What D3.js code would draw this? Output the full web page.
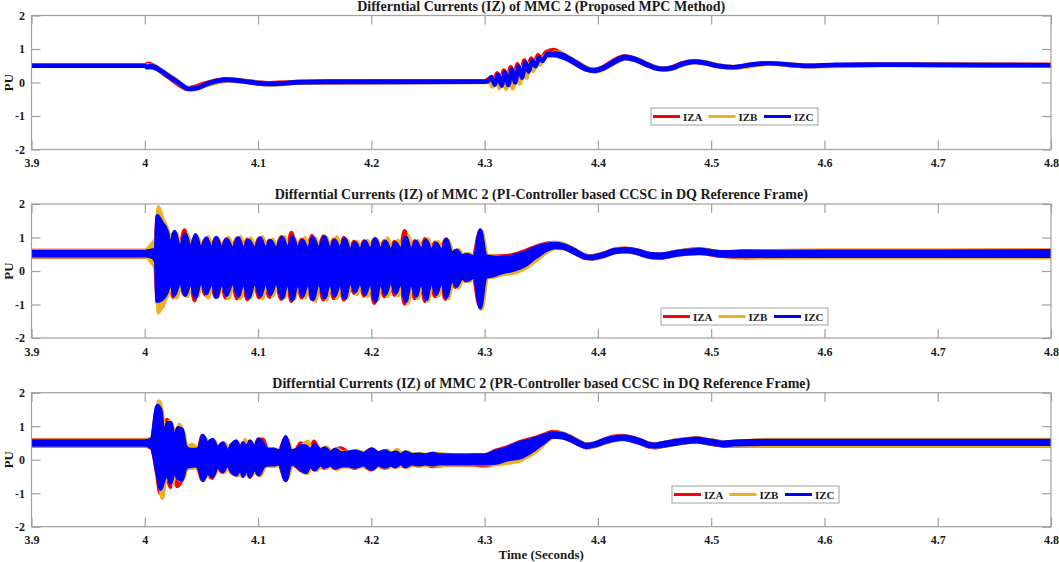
<!DOCTYPE html>
<html>
<head>
<meta charset="utf-8">
<script src="https://cdn.jsdelivr.net/npm/d3@7/dist/d3.min.js"></script>
<style>
	body { margin: 0; background: #fff; }
	svg { display: block; }
	text { font-family: 'Liberation Serif', 'Times New Roman', serif; font-weight: bold; fill: #1a1a1a; }
	.frame { fill: none; stroke: #a0a0a0; stroke-width: 1.2; }
	.tick line { stroke: #a0a0a0; stroke-width: 1.2; }
	.tick text { font-size: 12px; }
	.title { font-size: 14px; }
	.legend rect { fill: #fff; stroke: #a0a0a0; stroke-width: 1; }
	.legend text { font-size: 11px; }
</style>
</head>
<body>
<div id="chart"></div>
<script>
'use strict';

// ---- data ----
// every row: [time (s), upper edge (PU), lower edge (PU)]
// where the trace is a plain line, upper and lower are (nearly) equal

const seriesNames = ['IZA', 'IZB', 'IZC'];
const seriesColors = ['#ff0000', '#edb120', '#0000ff'];

const xTicks = [3.9, 4.0, 4.1, 4.2, 4.3, 4.4, 4.5, 4.6, 4.7, 4.8];
const yTicks = [-2, -1, 0, 1, 2];

const panelTitles = [
	'Differntial Currents (IZ) of MMC 2 (Proposed MPC Method)',
	'Differntial Currents (IZ) of MMC 2 (PI-Controller based CCSC in DQ Reference Frame)',
	'Differntial Currents (IZ) of MMC 2 (PR-Controller based CCSC in DQ Reference Frame)',
];

// panel 1: proposed MPC
const p1IZA = [
	[3.900, 0.51, 0.50], [4.000, 0.51, 0.50], [4.003, 0.56, 0.52], [4.008, 0.50, 0.46],
	[4.020, 0.22, 0.18], [4.038, -0.17, -0.19], [4.054, -0.02, -0.04], [4.072, 0.10, 0.08],
	[4.090, 0.04, 0.02], [4.108, -0.02, -0.04], [4.135, 0.02, 0.00], [4.300, 0.04, 0.02],
	[4.305, 0.12, 0.10], [4.308, -0.02, -0.04], [4.311, 0.28, 0.26], [4.314, -0.04, -0.06],
	[4.317, 0.36, 0.34], [4.320, -0.02, -0.04], [4.323, 0.46, 0.44], [4.326, 0.06, 0.04],
	[4.329, 0.55, 0.53], [4.332, 0.22, 0.20], [4.335, 0.66, 0.64], [4.338, 0.40, 0.38],
	[4.341, 0.72, 0.70], [4.344, 0.56, 0.54], [4.347, 0.82, 0.80], [4.350, 0.72, 0.70],
	[4.354, 0.90, 0.88], [4.361, 0.97, 0.90], [4.367, 0.88, 0.80], [4.374, 0.74, 0.68],
	[4.381, 0.60, 0.54], [4.389, 0.44, 0.40], [4.396, 0.38, 0.35], [4.404, 0.45, 0.42],
	[4.413, 0.64, 0.60], [4.423, 0.78, 0.73], [4.432, 0.72, 0.68], [4.441, 0.58, 0.55],
	[4.449, 0.46, 0.44], [4.457, 0.41, 0.39], [4.465, 0.45, 0.43], [4.474, 0.57, 0.55],
	[4.484, 0.64, 0.62], [4.494, 0.60, 0.58], [4.504, 0.52, 0.50], [4.519, 0.46, 0.45],
	[4.550, 0.58, 0.57], [4.584, 0.50, 0.49], [4.650, 0.54, 0.53], [4.800, 0.53, 0.52],
];
const p1IZB = [
	[3.900, 0.50, 0.50], [4.000, 0.50, 0.50], [4.004, 0.52, 0.48], [4.012, 0.42, 0.38],
	[4.024, 0.16, 0.12], [4.041, -0.18, -0.21], [4.057, -0.03, -0.06], [4.075, 0.09, 0.06],
	[4.093, 0.03, 0.00], [4.112, -0.03, -0.06], [4.140, 0.02, 0.00], [4.300, 0.03, 0.01],
	[4.304, 0.04, 0.02], [4.307, -0.10, -0.12], [4.310, 0.12, 0.10], [4.313, -0.15, -0.17],
	[4.316, 0.20, 0.18], [4.319, -0.16, -0.18], [4.322, 0.28, 0.26], [4.325, -0.15, -0.17],
	[4.328, 0.36, 0.34], [4.331, -0.02, -0.04], [4.334, 0.48, 0.46], [4.337, 0.16, 0.14],
	[4.340, 0.58, 0.56], [4.343, 0.36, 0.34], [4.346, 0.66, 0.64], [4.349, 0.55, 0.53],
	[4.352, 0.76, 0.74], [4.358, 0.86, 0.82], [4.364, 0.90, 0.80], [4.370, 0.84, 0.74],
	[4.377, 0.70, 0.64], [4.384, 0.56, 0.50], [4.392, 0.42, 0.36], [4.399, 0.37, 0.33],
	[4.407, 0.47, 0.43], [4.416, 0.66, 0.60], [4.426, 0.76, 0.71], [4.435, 0.70, 0.66],
	[4.444, 0.56, 0.52], [4.452, 0.45, 0.42], [4.460, 0.41, 0.38], [4.468, 0.46, 0.43],
	[4.477, 0.58, 0.55], [4.487, 0.64, 0.61], [4.497, 0.59, 0.56], [4.507, 0.51, 0.48],
	[4.522, 0.46, 0.44], [4.553, 0.58, 0.56], [4.587, 0.50, 0.48], [4.650, 0.54, 0.52],
	[4.800, 0.52, 0.50],
];
const p1IZC = [
	[3.900, 0.50, 0.50], [4.000, 0.50, 0.50], [4.002, 0.47, 0.45], [4.005, 0.50, 0.46],
	[4.010, 0.45, 0.42], [4.015, 0.34, 0.32], [4.022, 0.18, 0.16], [4.030, 0.00, -0.02],
	[4.039, -0.18, -0.20], [4.047, -0.15, -0.17], [4.055, -0.03, -0.05], [4.064, 0.06, 0.04],
	[4.073, 0.09, 0.07], [4.082, 0.07, 0.05], [4.091, 0.03, 0.01], [4.100, -0.01, -0.03],
	[4.110, -0.03, -0.05], [4.120, -0.02, -0.04], [4.135, 0.02, 0.00], [4.170, 0.03, 0.01],
	[4.220, 0.03, 0.01], [4.300, 0.03, 0.02], [4.303, 0.05, 0.04], [4.306, 0.17, 0.15],
	[4.309, -0.05, -0.07], [4.312, 0.24, 0.22], [4.315, -0.08, -0.10], [4.318, 0.30, 0.28],
	[4.321, -0.06, -0.08], [4.324, 0.40, 0.38], [4.327, 0.02, 0.00], [4.330, 0.48, 0.46],
	[4.333, 0.16, 0.14], [4.336, 0.60, 0.58], [4.339, 0.34, 0.32], [4.342, 0.66, 0.64],
	[4.345, 0.50, 0.48], [4.348, 0.74, 0.72], [4.351, 0.66, 0.64], [4.355, 0.84, 0.82],
	[4.362, 0.87, 0.82], [4.368, 0.84, 0.76], [4.375, 0.72, 0.66], [4.382, 0.58, 0.52],
	[4.390, 0.42, 0.38], [4.397, 0.37, 0.34], [4.405, 0.45, 0.42], [4.414, 0.63, 0.59],
	[4.424, 0.77, 0.73], [4.433, 0.71, 0.67], [4.442, 0.57, 0.54], [4.450, 0.45, 0.43],
	[4.458, 0.41, 0.39], [4.466, 0.45, 0.43], [4.475, 0.57, 0.55], [4.485, 0.63, 0.61],
	[4.495, 0.59, 0.57], [4.505, 0.51, 0.49], [4.520, 0.46, 0.45], [4.535, 0.54, 0.53],
	[4.551, 0.58, 0.57], [4.568, 0.54, 0.53], [4.585, 0.50, 0.49], [4.610, 0.53, 0.52],
	[4.650, 0.54, 0.53], [4.700, 0.53, 0.52], [4.800, 0.52, 0.51],
];

// panel 2: PI controller (dq frame)
const p2IZA = [
	[3.900, 0.61, 0.42], [4.000, 0.61, 0.42], [4.0060, 0.64, 0.38], [4.0090, 0.72, 0.20],
	[4.0110, 1.60, -0.95], [4.0145, 1.45, -1.10], [4.0190, 1.12, -0.65], [4.0218, 0.62, -0.28],
	[4.0250, 1.10, -0.78], [4.0300, 0.62, -0.30], [4.0350, 1.22, -0.72], [4.0395, 0.62, -0.28],
	[4.0440, 1.00, -0.88], [4.0485, 0.62, -0.30], [4.0535, 0.95, -0.72], [4.0580, 0.62, -0.28],
	[4.0625, 0.98, -0.78], [4.0670, 0.62, -0.30], [4.0715, 0.95, -0.80], [4.0765, 0.62, -0.28],
	[4.0815, 0.98, -0.82], [4.0860, 0.62, -0.30], [4.0905, 0.95, -0.85], [4.0960, 0.62, -0.28],
	[4.1010, 0.98, -0.80], [4.1055, 0.62, -0.30], [4.1100, 0.92, -0.78], [4.1150, 0.62, -0.28],
	[4.1205, 1.02, -0.84], [4.1250, 0.62, -0.30], [4.1295, 1.15, -0.90], [4.1340, 0.62, -0.28],
	[4.1385, 0.95, -0.80], [4.1430, 0.62, -0.30], [4.1475, 1.06, -0.84], [4.1525, 0.62, -0.28],
	[4.1578, 1.04, -0.86], [4.1623, 0.62, -0.30], [4.1668, 0.95, -0.82], [4.1712, 0.62, -0.28],
	[4.1757, 1.00, -0.86], [4.1802, 0.60, -0.30], [4.1847, 0.88, -0.66], [4.1890, 0.60, -0.28],
	[4.1936, 0.90, -0.74], [4.1980, 0.60, -0.30], [4.2026, 0.95, -0.96], [4.2070, 0.60, -0.28],
	[4.2115, 0.90, -0.76], [4.2160, 0.60, -0.30], [4.2205, 0.88, -0.72], [4.2250, 0.60, -0.28],
	[4.2294, 1.20, -0.98], [4.2340, 0.60, -0.30], [4.2384, 0.90, -0.82], [4.2430, 0.60, -0.28],
	[4.2474, 0.96, -0.90], [4.2520, 0.60, -0.28], [4.2563, 0.86, -0.76], [4.2610, 0.58, -0.28],
	[4.2653, 0.94, -0.84], [4.2700, 0.52, -0.25], [4.2742, 0.60, -0.48], [4.2790, 0.45, -0.20],
	[4.2832, 0.50, -0.30], [4.2900, 0.42, -0.18], [4.2951, 1.10, -1.00], [4.3000, 0.45, -0.20],
	[4.3050, 0.45, -0.18], [4.3140, 0.45, -0.08], [4.3240, 0.48, 0.00], [4.3340, 0.58, 0.15],
	[4.3440, 0.72, 0.42], [4.3540, 0.82, 0.62], [4.3610, 0.85, 0.70], [4.3690, 0.80, 0.68],
	[4.3790, 0.64, 0.54], [4.3890, 0.47, 0.38], [4.3940, 0.45, 0.37], [4.4040, 0.52, 0.44],
	[4.4140, 0.64, 0.55], [4.4240, 0.68, 0.58], [4.4340, 0.63, 0.53], [4.4440, 0.53, 0.42],
	[4.4540, 0.50, 0.38], [4.4690, 0.58, 0.48], [4.4890, 0.66, 0.53], [4.5090, 0.56, 0.44],
	[4.5300, 0.60, 0.40], [4.6000, 0.61, 0.41], [4.7000, 0.61, 0.41], [4.8000, 0.62, 0.42],
];
const p2IZB = [
	[3.900, 0.60, 0.43], [4.000, 0.60, 0.43], [4.0060, 0.80, 0.25], [4.0100, 1.00, 0.00],
	[4.0120, 1.92, -1.24], [4.0160, 1.55, -1.00], [4.0215, 1.10, -0.62], [4.0242, 0.62, -0.28],
	[4.0280, 1.12, -0.80], [4.0325, 0.62, -0.30], [4.0375, 1.10, -0.76], [4.0420, 0.62, -0.28],
	[4.0465, 1.02, -0.76], [4.0510, 0.62, -0.30], [4.0560, 1.02, -0.80], [4.0605, 0.62, -0.28],
	[4.0650, 0.95, -0.74], [4.0695, 0.62, -0.30], [4.0740, 1.00, -0.82], [4.0790, 0.62, -0.28],
	[4.0845, 1.02, -0.82], [4.0885, 0.62, -0.30], [4.0935, 0.98, -0.80], [4.0985, 0.62, -0.28],
	[4.1040, 1.02, -0.82], [4.1080, 0.62, -0.30], [4.1130, 0.95, -0.74], [4.1175, 0.62, -0.28],
	[4.1235, 1.02, -0.80], [4.1275, 0.62, -0.30], [4.1320, 0.98, -0.82], [4.1365, 0.62, -0.28],
	[4.1415, 1.00, -0.80], [4.1455, 0.62, -0.30], [4.1505, 0.98, -0.90], [4.1550, 0.62, -0.28],
	[4.1605, 1.00, -0.86], [4.1650, 0.62, -0.30], [4.1695, 1.02, -0.82], [4.1740, 0.62, -0.28],
	[4.1785, 0.94, -0.80], [4.1830, 0.60, -0.30], [4.1875, 0.88, -0.70], [4.1915, 0.60, -0.28],
	[4.1965, 0.92, -0.76], [4.2005, 0.60, -0.30], [4.2055, 0.92, -0.86], [4.2095, 0.60, -0.28],
	[4.2145, 0.98, -0.76], [4.2185, 0.60, -0.30], [4.2235, 0.92, -0.74], [4.2275, 0.60, -0.28],
	[4.2325, 1.06, -0.96], [4.2365, 0.60, -0.30], [4.2410, 0.92, -0.82], [4.2455, 0.60, -0.28],
	[4.2500, 0.96, -0.90], [4.2545, 0.60, -0.28], [4.2590, 0.88, -0.74], [4.2635, 0.58, -0.28],
	[4.2680, 0.92, -0.82], [4.2725, 0.52, -0.25], [4.2770, 0.64, -0.50], [4.2815, 0.45, -0.20],
	[4.2860, 0.52, -0.32], [4.2920, 0.42, -0.18], [4.2975, 1.18, -1.14], [4.3025, 0.45, -0.20],
	[4.3080, 0.45, -0.18], [4.3170, 0.38, -0.10], [4.3270, 0.42, -0.05], [4.3370, 0.52, 0.10],
	[4.3470, 0.68, 0.35], [4.3570, 0.82, 0.60], [4.3640, 0.85, 0.68], [4.3720, 0.78, 0.65],
	[4.3820, 0.60, 0.50], [4.3920, 0.45, 0.36], [4.3970, 0.44, 0.36], [4.4070, 0.54, 0.44],
	[4.4170, 0.66, 0.56], [4.4270, 0.67, 0.57], [4.4370, 0.60, 0.50], [4.4470, 0.50, 0.40],
	[4.4570, 0.50, 0.40], [4.4720, 0.60, 0.48], [4.4920, 0.65, 0.52], [4.5120, 0.56, 0.45],
	[4.5300, 0.58, 0.42], [4.6000, 0.62, 0.40], [4.7000, 0.62, 0.40], [4.8000, 0.62, 0.40],
];
const p2IZC = [
	[3.900, 0.58, 0.46], [3.960, 0.58, 0.46], [4.000, 0.58, 0.46], [4.0060, 0.62, 0.42],
	[4.0095, 0.64, 0.30], [4.0110, 1.65, -0.90], [4.0150, 1.45, -0.85], [4.0200, 1.15, -0.60],
	[4.0228, 0.70, -0.30], [4.0262, 1.18, -0.72], [4.0310, 0.68, -0.30], [4.0358, 1.10, -0.72],
	[4.0405, 0.66, -0.32], [4.0448, 1.08, -0.78], [4.0495, 0.65, -0.28], [4.0543, 0.98, -0.68],
	[4.0590, 0.66, -0.32], [4.0633, 1.00, -0.78], [4.0680, 0.64, -0.30], [4.0722, 0.95, -0.72],
	[4.0775, 0.66, -0.32], [4.0827, 0.98, -0.75], [4.0870, 0.64, -0.30], [4.0916, 0.92, -0.80],
	[4.0970, 0.66, -0.32], [4.1021, 0.98, -0.75], [4.1065, 0.64, -0.30], [4.1110, 0.90, -0.70],
	[4.1160, 0.66, -0.32], [4.1215, 1.00, -0.80], [4.1260, 0.64, -0.30], [4.1304, 1.02, -0.85],
	[4.1350, 0.66, -0.32], [4.1394, 0.92, -0.75], [4.1440, 0.62, -0.30], [4.1484, 1.00, -0.85],
	[4.1535, 0.66, -0.32], [4.1588, 1.02, -0.80], [4.1633, 0.64, -0.30], [4.1678, 0.92, -0.75],
	[4.1722, 0.66, -0.32], [4.1767, 0.96, -0.82], [4.1812, 0.60, -0.28], [4.1857, 0.85, -0.62],
	[4.1900, 0.62, -0.30], [4.1946, 0.88, -0.70], [4.1990, 0.60, -0.28], [4.2036, 0.96, -0.90],
	[4.2080, 0.62, -0.30], [4.2125, 0.88, -0.70], [4.2170, 0.60, -0.28], [4.2215, 0.84, -0.66],
	[4.2260, 0.62, -0.30], [4.2304, 1.02, -0.90], [4.2350, 0.60, -0.30], [4.2394, 0.88, -0.75],
	[4.2440, 0.62, -0.28], [4.2484, 0.92, -0.85], [4.2530, 0.60, -0.28], [4.2573, 0.82, -0.70],
	[4.2620, 0.58, -0.28], [4.2663, 0.95, -0.78], [4.2710, 0.52, -0.25], [4.2752, 0.62, -0.45],
	[4.2800, 0.45, -0.20], [4.2842, 0.48, -0.28], [4.2910, 0.42, -0.18], [4.2961, 1.22, -1.10],
	[4.3010, 0.45, -0.18], [4.3060, 0.42, -0.15], [4.3150, 0.40, -0.05], [4.3250, 0.45, 0.02],
	[4.3350, 0.55, 0.15], [4.3450, 0.70, 0.40], [4.3550, 0.80, 0.62], [4.3620, 0.82, 0.70],
	[4.3700, 0.78, 0.68], [4.3800, 0.62, 0.52], [4.3900, 0.45, 0.38], [4.3950, 0.44, 0.37],
	[4.4050, 0.52, 0.44], [4.4150, 0.64, 0.55], [4.4250, 0.66, 0.58], [4.4350, 0.62, 0.52],
	[4.4450, 0.52, 0.42], [4.4550, 0.50, 0.40], [4.4700, 0.58, 0.48], [4.4900, 0.64, 0.53],
	[4.5100, 0.57, 0.45], [4.5300, 0.58, 0.44], [4.6000, 0.59, 0.44], [4.7000, 0.59, 0.44],
	[4.8000, 0.60, 0.44],
];

// panel 3: PR controller (dq frame)
const p3IZA = [
	[3.900, 0.59, 0.41], [4.000, 0.59, 0.41], [4.0060, 0.62, 0.33], [4.0105, 1.50, -0.40],
	[4.0135, 1.40, -1.00], [4.0165, 0.70, -0.55], [4.0195, 1.20, -0.50], [4.0225, 1.05, -0.82],
	[4.0255, 0.55, -0.30], [4.0285, 0.90, -0.80], [4.0325, 0.85, -0.62], [4.0355, 0.38, -0.25],
	[4.0395, 0.32, -0.22], [4.0445, 0.30, -0.20], [4.0475, 0.35, -0.30], [4.0505, 0.72, -0.60],
	[4.0545, 0.50, -0.42], [4.0595, 0.58, -0.55], [4.0635, 0.35, -0.22], [4.0685, 0.48, -0.38],
	[4.0725, 0.28, -0.18], [4.0765, 0.45, -0.38], [4.0805, 0.55, -0.45], [4.0835, 0.30, -0.25],
	[4.0865, 0.50, -0.50], [4.0895, 0.35, -0.25], [4.0925, 0.55, -0.52], [4.0965, 0.35, -0.25],
	[4.1000, 0.62, -0.45], [4.1045, 0.60, -0.22], [4.1085, 0.30, -0.18], [4.1135, 0.32, -0.18],
	[4.1185, 0.25, -0.15], [4.1240, 0.65, -0.60], [4.1285, 0.25, -0.15], [4.1335, 0.30, -0.20],
	[4.1375, 0.50, -0.32], [4.1420, 0.42, -0.38], [4.1455, 0.30, -0.20], [4.1495, 0.55, -0.30],
	[4.1545, 0.28, -0.18], [4.1585, 0.35, -0.25], [4.1635, 0.22, -0.18], [4.1675, 0.30, -0.25],
	[4.1735, 0.35, -0.20], [4.1795, 0.22, -0.20], [4.1855, 0.25, -0.25], [4.1925, 0.18, -0.18],
	[4.2000, 0.32, -0.30], [4.2055, 0.20, -0.18], [4.2120, 0.26, -0.25], [4.2165, 0.18, -0.18],
	[4.2210, 0.22, -0.22], [4.2255, 0.15, -0.15], [4.2300, 0.22, -0.22], [4.2355, 0.15, -0.15],
	[4.2420, 0.16, -0.18], [4.2475, 0.14, -0.15], [4.2540, 0.18, -0.20], [4.2700, 0.15, -0.15],
	[4.2900, 0.15, -0.16], [4.3000, 0.14, -0.18], [4.3100, 0.28, -0.12], [4.3200, 0.38, -0.05],
	[4.3300, 0.52, 0.05], [4.3440, 0.66, 0.30], [4.3520, 0.75, 0.50], [4.3600, 0.84, 0.68],
	[4.3680, 0.80, 0.66], [4.3756, 0.70, 0.58], [4.3830, 0.56, 0.45], [4.3895, 0.46, 0.36],
	[4.3980, 0.51, 0.41], [4.4070, 0.63, 0.52], [4.4140, 0.70, 0.58], [4.4210, 0.72, 0.62],
	[4.4300, 0.67, 0.56], [4.4380, 0.58, 0.48], [4.4450, 0.48, 0.38], [4.4505, 0.46, 0.36],
	[4.4600, 0.52, 0.42], [4.4700, 0.58, 0.48], [4.4800, 0.63, 0.52], [4.4870, 0.65, 0.54],
	[4.4950, 0.60, 0.50], [4.5045, 0.56, 0.44], [4.5110, 0.52, 0.41], [4.5500, 0.59, 0.42],
	[4.6500, 0.59, 0.42], [4.8000, 0.59, 0.42],
];
const p3IZB = [
	[3.900, 0.58, 0.42], [4.000, 0.58, 0.42], [4.0070, 0.66, 0.30], [4.0125, 1.75, -0.50],
	[4.0155, 1.40, -1.15], [4.0185, 0.75, -0.60], [4.0215, 1.15, -0.50], [4.0245, 1.00, -0.72],
	[4.0275, 0.60, -0.30], [4.0305, 1.05, -0.60], [4.0345, 0.80, -0.55], [4.0375, 0.40, -0.25],
	[4.0420, 0.45, -0.25], [4.0465, 0.35, -0.22], [4.0495, 0.40, -0.30], [4.0528, 0.65, -0.55],
	[4.0565, 0.55, -0.45], [4.0615, 0.55, -0.45], [4.0655, 0.35, -0.22], [4.0705, 0.50, -0.38],
	[4.0745, 0.30, -0.18], [4.0785, 0.50, -0.40], [4.0825, 0.50, -0.48], [4.0855, 0.32, -0.25],
	[4.0885, 0.60, -0.45], [4.0915, 0.35, -0.25], [4.0945, 0.50, -0.48], [4.0985, 0.35, -0.25],
	[4.1020, 0.55, -0.48], [4.1065, 0.40, -0.22], [4.1105, 0.32, -0.18], [4.1155, 0.30, -0.18],
	[4.1205, 0.28, -0.15], [4.1260, 0.60, -0.55], [4.1305, 0.25, -0.15], [4.1355, 0.35, -0.20],
	[4.1395, 0.45, -0.35], [4.1440, 0.55, -0.40], [4.1475, 0.30, -0.20], [4.1515, 0.42, -0.32],
	[4.1565, 0.30, -0.18], [4.1605, 0.38, -0.25], [4.1655, 0.25, -0.18], [4.1695, 0.32, -0.30],
	[4.1755, 0.22, -0.20], [4.1815, 0.24, -0.20], [4.1875, 0.26, -0.24], [4.1945, 0.20, -0.18],
	[4.2020, 0.30, -0.28], [4.2075, 0.20, -0.18], [4.2140, 0.28, -0.25], [4.2185, 0.20, -0.18],
	[4.2230, 0.30, -0.22], [4.2275, 0.16, -0.15], [4.2320, 0.22, -0.22], [4.2375, 0.16, -0.15],
	[4.2440, 0.18, -0.18], [4.2495, 0.15, -0.15], [4.2560, 0.18, -0.18], [4.2700, 0.15, -0.15],
	[4.2900, 0.15, -0.15], [4.3000, 0.15, -0.14], [4.3100, 0.22, -0.15], [4.3200, 0.30, -0.10],
	[4.3300, 0.45, -0.05], [4.3360, 0.55, 0.05], [4.3460, 0.62, 0.25], [4.3540, 0.75, 0.50],
	[4.3620, 0.82, 0.68], [4.3700, 0.78, 0.66], [4.3776, 0.66, 0.56], [4.3850, 0.54, 0.44],
	[4.3915, 0.45, 0.36], [4.4000, 0.52, 0.42], [4.4090, 0.64, 0.52], [4.4160, 0.70, 0.58],
	[4.4230, 0.70, 0.60], [4.4320, 0.64, 0.54], [4.4400, 0.56, 0.46], [4.4470, 0.48, 0.38],
	[4.4525, 0.46, 0.37], [4.4620, 0.54, 0.42], [4.4720, 0.60, 0.48], [4.4820, 0.63, 0.52],
	[4.4890, 0.64, 0.53], [4.4970, 0.60, 0.48], [4.5065, 0.55, 0.44], [4.5130, 0.53, 0.42],
	[4.5500, 0.60, 0.43], [4.6500, 0.60, 0.43], [4.8000, 0.60, 0.43],
];
const p3IZC = [
	[3.900, 0.56, 0.44], [3.950, 0.56, 0.44], [4.000, 0.56, 0.44], [4.0060, 0.62, 0.35],
	[4.0110, 1.62, -0.40], [4.0140, 1.50, -0.88], [4.0170, 0.70, -0.60], [4.0200, 1.10, -0.45],
	[4.0230, 1.10, -0.70], [4.0260, 0.60, -0.30], [4.0290, 0.95, -0.55], [4.0330, 0.90, -0.60],
	[4.0360, 0.40, -0.25], [4.0400, 0.30, -0.20], [4.0450, 0.30, -0.18], [4.0480, 0.35, -0.25],
	[4.0513, 0.72, -0.62], [4.0550, 0.50, -0.40], [4.0600, 0.60, -0.50], [4.0640, 0.35, -0.20],
	[4.0690, 0.50, -0.35], [4.0730, 0.25, -0.15], [4.0770, 0.45, -0.35], [4.0810, 0.55, -0.45],
	[4.0840, 0.30, -0.25], [4.0870, 0.50, -0.48], [4.0900, 0.35, -0.25], [4.0930, 0.55, -0.50],
	[4.0970, 0.35, -0.25], [4.1006, 0.60, -0.45], [4.1050, 0.45, -0.20], [4.1090, 0.30, -0.15],
	[4.1140, 0.30, -0.15], [4.1190, 0.25, -0.12], [4.1245, 0.68, -0.62], [4.1290, 0.25, -0.12],
	[4.1340, 0.30, -0.18], [4.1380, 0.42, -0.30], [4.1424, 0.40, -0.38], [4.1460, 0.28, -0.18],
	[4.1500, 0.45, -0.30], [4.1550, 0.28, -0.15], [4.1590, 0.35, -0.22], [4.1640, 0.22, -0.15],
	[4.1680, 0.30, -0.25], [4.1740, 0.20, -0.18], [4.1800, 0.22, -0.18], [4.1860, 0.25, -0.22],
	[4.1930, 0.18, -0.15], [4.2006, 0.32, -0.28], [4.2060, 0.20, -0.15], [4.2125, 0.26, -0.22],
	[4.2170, 0.18, -0.15], [4.2215, 0.22, -0.20], [4.2260, 0.15, -0.12], [4.2304, 0.22, -0.20],
	[4.2360, 0.15, -0.12], [4.2424, 0.16, -0.15], [4.2480, 0.14, -0.12], [4.2543, 0.18, -0.15],
	[4.2600, 0.14, -0.12], [4.2700, 0.14, -0.12], [4.2800, 0.13, -0.12], [4.2900, 0.14, -0.12],
	[4.3000, 0.14, -0.12], [4.3100, 0.25, -0.10], [4.3200, 0.35, 0.00], [4.3300, 0.50, 0.05],
	[4.3440, 0.62, 0.30], [4.3520, 0.72, 0.50], [4.3600, 0.80, 0.68], [4.3680, 0.78, 0.66],
	[4.3756, 0.68, 0.58], [4.3830, 0.55, 0.45], [4.3895, 0.45, 0.37], [4.3980, 0.50, 0.42],
	[4.4070, 0.62, 0.52], [4.4140, 0.68, 0.58], [4.4210, 0.70, 0.62], [4.4300, 0.66, 0.56],
	[4.4380, 0.58, 0.48], [4.4450, 0.48, 0.40], [4.4505, 0.46, 0.38], [4.4600, 0.52, 0.42],
	[4.4700, 0.58, 0.48], [4.4800, 0.62, 0.52], [4.4870, 0.64, 0.54], [4.4950, 0.60, 0.50],
	[4.5045, 0.55, 0.45], [4.5110, 0.52, 0.42], [4.5200, 0.55, 0.45], [4.5500, 0.57, 0.46],
	[4.6000, 0.57, 0.46], [4.6500, 0.57, 0.46], [4.7000, 0.57, 0.46], [4.7500, 0.57, 0.46],
	[4.8000, 0.57, 0.46],
];

const panelSeries = [
	[p1IZA, p1IZB, p1IZC],
	[p2IZA, p2IZB, p2IZC],
	[p3IZA, p3IZB, p3IZC],
];

// ---- layout ----
const W = 1059, H = 562;
const plotL = 31.5, plotR = 1051;
const plotH = 134;
const panelTop = [15.5, 204, 392.7];
const legendAt = [[619.5, 92.5], [629.5, 104], [640.5, 93.3]]; // offset from plot top-left
const lineW = [4.3, 3.6, 3.6];
const tickLen = 9;

const fmt = function(d) { return String(+d.toFixed(1)); };

let svg = d3.select('#chart')
	.append('svg')
		.attr('width', W)
		.attr('height', H)
	;
svg.append('rect').attr('width', W).attr('height', H).attr('fill', '#fff');

let x = d3.scaleLinear().domain([3.9, 4.8]).range([plotL, plotR]);

for (let p=0 ; p<3 ; ++p) {
	let top = panelTop[p];
	let y = d3.scaleLinear().domain([-2, 2]).range([top + plotH, top]);
	let g = svg.append('g').classed('panel', true);

	g.append('defs').append('clipPath')
		.attr('id', 'clip'+p)
		.append('rect')
			.attr('x', plotL)
			.attr('y', top)
			.attr('width', plotR - plotL)
			.attr('height', plotH)
		;

	// axes: inward ticks on all four sides, labels only bottom/left
	g.append('g')
		.attr('transform', 'translate(0,'+(top + plotH)+')')
		.call(d3.axisBottom(x).tickValues(xTicks).tickSize(-tickLen).tickPadding(9).tickFormat(fmt))
		;
	g.append('g')
		.attr('transform', 'translate(0,'+top+')')
		.call(d3.axisTop(x).tickValues(xTicks).tickSize(-tickLen).tickFormat(''))
		;
	g.append('g')
		.attr('transform', 'translate('+plotL+',0)')
		.call(d3.axisLeft(y).tickValues(yTicks).tickSize(-tickLen).tickPadding(6.5).tickFormat(fmt))
		;
	g.append('g')
		.attr('transform', 'translate('+plotR+',0)')
		.call(d3.axisRight(y).tickValues(yTicks).tickSize(-tickLen).tickFormat(''))
		;
	g.selectAll('.domain').remove();
	g.selectAll('.tick text').attr('font-family', null).attr('font-size', null).attr('fill', '#1a1a1a');

	// traces, IZC drawn last (on top)
	let area = d3.area()
		.curve(d3.curveMonotoneX)
		.x(function(d) { return x(d[0]); })
		.y0(function(d) { return y(d[2]); })
		.y1(function(d) { return y(d[1]); })
		;
	let traces = g.append('g').attr('clip-path', 'url(#clip'+p+')');
	for (let s=0 ; s<3 ; ++s) {
		traces.append('path')
			.datum(panelSeries[p][s])
			.attr('d', area)
			.attr('fill', seriesColors[s])
			.attr('stroke', seriesColors[s])
			.attr('stroke-width', lineW[p])
			.attr('stroke-linejoin', 'round')
			;
	}

	g.append('rect')
		.classed('frame', true)
		.attr('x', plotL)
		.attr('y', top)
		.attr('width', plotR - plotL)
		.attr('height', plotH)
		;

	g.append('text')
		.classed('title', true)
		.attr('x', (plotL + plotR)/2)
		.attr('y', top - 5)
		.attr('text-anchor', 'middle')
		.text(panelTitles[p])
		;

	g.append('text')
		.attr('transform', 'translate(13,'+(top + plotH/2)+') rotate(-90)')
		.attr('text-anchor', 'middle')
		.attr('font-size', 13)
		.text('PU')
		;

	// legend
	let lg = g.append('g')
		.classed('legend', true)
		.attr('transform', 'translate('+(plotL + legendAt[p][0])+','+(top + legendAt[p][1])+')')
		;
	lg.append('rect').attr('width', 167).attr('height', 17);
	for (let s=0 ; s<3 ; ++s) {
		let ox = 2 + s*55.5;
		lg.append('line')
			.attr('x1', ox)
			.attr('x2', ox + 27)
			.attr('y1', 8.5)
			.attr('y2', 8.5)
			.attr('stroke', seriesColors[s])
			.attr('stroke-width', 3)
			;
		lg.append('text')
			.attr('x', ox + 30)
			.attr('y', 12.5)
			.text(seriesNames[s])
			;
	}
}

svg.append('text')
	.attr('x', (plotL + plotR)/2)
	.attr('y', 559)
	.attr('text-anchor', 'middle')
	.attr('font-size', 13)
	.text('Time (Seconds)')
	;
</script>
</body>
</html>
